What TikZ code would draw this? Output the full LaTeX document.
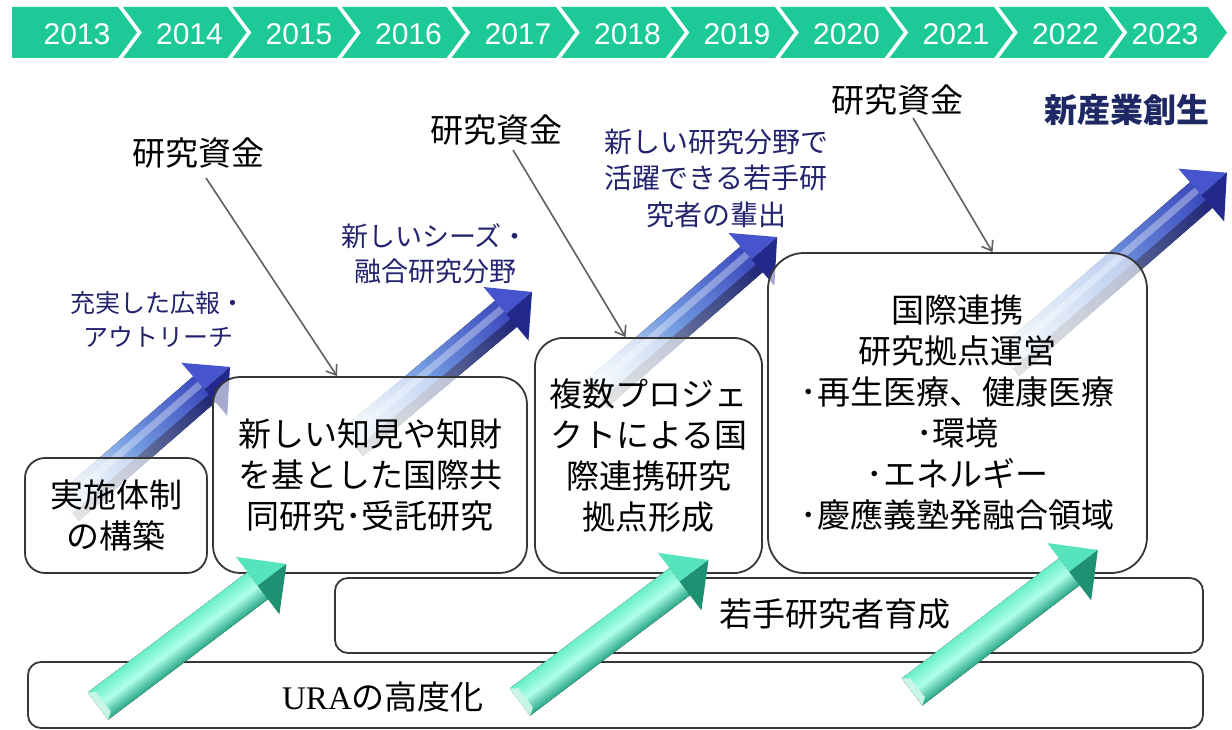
\documentclass[tikz,border=0pt]{standalone}
\usepackage{fontspec}
\setmainfont{Liberation Sans}
\newfontfamily\jp{Noto Sans CJK JP}
\newfontfamily\yrfont{Liberation Sans}
\newfontfamily\tms{Liberation Serif}
\usetikzlibrary{arrows.meta,calc}

\definecolor{bar}{RGB}{29,201,151}
\definecolor{navy}{RGB}{35,35,110}
\definecolor{navyb}{RGB}{30,40,100}
\definecolor{edge}{RGB}{55,55,55}
\definecolor{fundline}{RGB}{95,95,95}
\definecolor{bpale}{RGB}{240,250,253}
\definecolor{bmid}{RGB}{115,155,225}
\definecolor{bdark}{RGB}{60,75,190}
\definecolor{bhead1}{RGB}{70,85,205}
\definecolor{bhead2}{RGB}{35,40,140}
\definecolor{gmain}{RGB}{105,238,200}
\definecolor{glight}{RGB}{175,255,232}
\definecolor{gdark}{RGB}{40,165,135}
\definecolor{ghead1}{RGB}{85,228,188}
\definecolor{ghead2}{RGB}{30,145,115}
\definecolor{gtail}{RGB}{200,245,230}

\newcommand\BlueArrow[4]{%
  \begin{scope}[transform canvas={shift={(#1,#2)},rotate=#3}]
    \pgfmathsetmacro\Lh{#4-34}
    \fill[left color=bpale, right color=bdark, middle color=bmid]
      (0,-17) -- (\Lh,-17) -- (\Lh,17) -- (0,17) -- cycle;
    \fill[white, fill opacity=0.35] (0,-10) -- (\Lh,-10) -- (\Lh,-3) -- (0,-3) -- cycle;
    \fill[left color=white, right color=bhead2, fill opacity=0.45]
      (0,7) -- (\Lh,7) -- (\Lh,17) -- (0,17) -- cycle;
    \fill[bhead1] (\Lh,-35) -- (#4,0) -- (\Lh,0) -- cycle;
    \fill[bhead2] (\Lh,0) -- (#4,0) -- (\Lh,35) -- cycle;
  \end{scope}}

\newcommand\GreenArrow[4]{%
  \begin{scope}[transform canvas={shift={(#1,#2)},rotate=#3}]
    \pgfmathsetmacro\Lh{#4-36}
    \fill[top color=gmain, bottom color=gdark, middle color=glight]
      (0,-17) -- (\Lh,-17) -- (\Lh,17) -- (0,17) -- cycle;
    \fill[ghead1] (\Lh,-36) -- (#4,0) -- (\Lh,0) -- cycle;
    \fill[ghead2] (\Lh,0) -- (#4,0) -- (\Lh,36) -- cycle;
    \fill[gtail] (0,-17) -- (7,-12) -- (7,12) -- (0,17) -- cycle;
  \end{scope}}

\tikzset{
  box/.style={draw=edge, line width=1.8pt, fill=white, fill opacity=0.6,
    text opacity=1, align=center, inner sep=0pt,
    font=\jp\fontsize{33}{41}\selectfont},
  fund/.style={font=\jp\fontsize{33}{40}\selectfont, text=black, inner sep=0pt},
  bluelbl/.style={text=navy, align=center, inner sep=0pt},
  year/.style={font=\yrfont\fontsize{30}{30}\selectfont, text=white, inner sep=0pt},
  fundarrow/.style={draw=fundline, line width=1.6pt,
    -{Straight Barb[length=9pt,width=13pt,line width=1.6pt]}}
}

\begin{document}
\begin{tikzpicture}[x=1pt,y=-1pt]
\useasboundingbox (0,0) rectangle (1232,730);
\fill[white] (0,0) rectangle (1232,730);

% timeline bar
\fill[bar] (12,7) -- (118,7) -- (137,32.5) -- (118,58) -- (12,58) -- cycle;
\foreach \i in {1,...,9}{
  \pgfmathsetmacro\a{137+109.5*(\i-1)}
  \pgfmathsetmacro\b{137+109.5*\i}
  \fill[bar] (\a-14,7) -- (\b-19,7) -- (\b,32.5) -- (\b-19,58) -- (\a-14,58) -- (\a+5,32.5) -- cycle;
}
\fill[bar] (1108.5,7) -- (1208,7) -- (1227,32.5) -- (1208,58) -- (1108.5,58) -- (1127.5,32.5) -- cycle;
\node[year] (y0) at (77,34) {2013};
\node[year] (y1) at (189.5,34) {2014};
\node[year] (y2) at (299,34) {2015};
\node[year] (y3) at (408.5,34) {2016};
\node[year] (y4) at (518,34) {2017};
\node[year] (y5) at (627.5,34) {2018};
\node[year] (y6) at (737,34) {2019};
\node[year] (y7) at (846.5,34) {2020};
\node[year] (y8) at (956,34) {2021};
\node[year] (y9) at (1065.5,34) {2022};
\node[year] (y10) at (1165,34) {2023};

% blue arrows (behind boxes)
\BlueArrow{67.7}{508}{41}{215}
\BlueArrow{352}{443}{40}{235}
\BlueArrow{596}{394.5}{41}{240}
\BlueArrow{1008}{363}{41}{290}

% boxes
\node[box, rounded corners=20pt, minimum width=182pt, minimum height=115pt] (b1) at (116,515.5) {実施体制\\の構築};
\node[box, rounded corners=27pt, minimum width=314pt, minimum height=196pt] (b2) at (370,475) {新しい知見や知財\\を基とした国際共\\同研究･受託研究};
\node[box, rounded corners=28pt, minimum width=227pt, minimum height=235pt] (b3) at (648.5,455.5) {複数プロジェ\\クトによる国\\際連携研究\\拠点形成};
\node[box, rounded corners=36pt, minimum width=379pt, minimum height=320pt] (b4) at (957.5,413) {国際連携\\研究拠点運営\\･再生医療、健康医療\\･環境\\･エネルギー\\･慶應義塾発融合領域};
\node[box, rounded corners=13pt, minimum width=868pt, minimum height=75pt] (bw) at (769,615.5) {};
\node[box, rounded corners=13pt, minimum width=1175pt, minimum height=66pt] (bu) at (615.5,695) {};
\node[font=\jp\fontsize{33}{40}\selectfont, inner sep=0pt] (tw) at (835,614) {若手研究者育成};
\node[font=\jp\fontsize{33}{40}\selectfont, inner sep=0pt] (tu) at (383,697) {{\tms URA}の高度化};

% green arrows (on top)
\GreenArrow{98}{706}{37}{236}
\GreenArrow{520}{702}{37}{236}
\GreenArrow{912}{692}{37.4}{234}

% labels
\node[fund] (f1) at (198,153) {研究資金};
\node[fund] (f2) at (496,130) {研究資金};
\node[fund] (f3) at (897,100) {研究資金};
\node[font=\jp\bfseries\fontsize{33}{33}\selectfont, text=navyb, inner sep=0pt] (ns) at (1127,110) {新産業創生};
\node[bluelbl, font=\jp\fontsize{25}{34}\selectfont] (l1) at (158,320) {充実した広報・\\アウトリーチ};
\node[bluelbl, font=\jp\fontsize{27}{35}\selectfont] (l2) at (435,254) {新しいシーズ・\\融合研究分野};
\node[bluelbl, font=\jp\fontsize{28}{36.5}\selectfont] (l3) at (716,178) {新しい研究分野で\\活躍できる若手研\\究者の輩出};

% funding arrows
\draw[fundarrow] ($(f1.center)+(8,25)$) -- ($(b2.north)+(-33,0)$);
\draw[fundarrow] ($(f2.center)+(17,20)$) -- ($(b3.north)+(-23,0)$);
\draw[fundarrow] ($(f3.center)+(16,18)$) -- ($(b4.north)+(35,0)$);
\end{tikzpicture}
\end{document}
